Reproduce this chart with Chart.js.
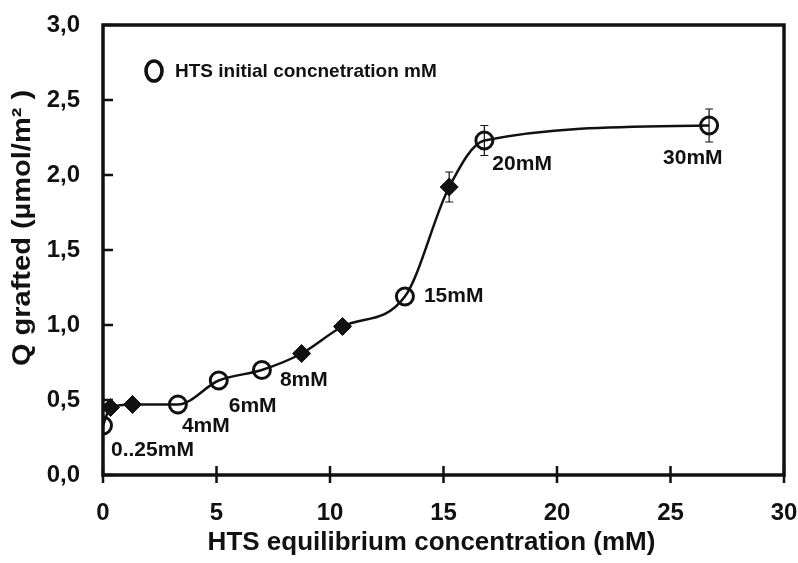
<!DOCTYPE html>
<html>
<head>
<meta charset="utf-8">
<title>HTS grafting isotherm</title>
<script src="https://cdn.jsdelivr.net/npm/chart.js@4.4.1/dist/chart.umd.min.js"></script>
<style>
  html, body { margin: 0; padding: 0; background: #fff; }
  #wrap { width: 798px; height: 563px; }
</style>
</head>
<body>
<div id="wrap"><canvas id="isotherm"></canvas></div>
<script>
// samples at a given initial concentration (open circles)
const initialConc = [0, 3.3, 5.1, 7.0, 13.3, 16.8, 26.7];
const initialQ = [0.33, 0.47, 0.63, 0.70, 1.19, 2.23, 2.33];
const initialErr = [0, 0, 0, 0, 0, 0.10, 0.11];
const initialNames = ['0..25mM', '4mM', '6mM', '8mM', '15mM', '20mM', '30mM'];

// intermediate samples (filled diamonds)
const otherConc = [0.33, 1.3, 8.75, 10.55, 15.25];
const otherQ = [0.45, 0.47, 0.81, 0.99, 1.92];
const otherErr = [0, 0, 0, 0, 0.10];

const xTicks = [0, 5, 10, 15, 20, 25, 30];
const yTicks = [0, 0.5, 1.0, 1.5, 2.0, 2.5, 3.0];

const legendText = 'HTS initial concnetration mM';
const xTitle = 'HTS equilibrium concentration (mM)';
const yTitle = 'Q grafted (µmol/m² )';

const FONT = '"Liberation Sans", Arial, sans-serif';
const INK = '#111';

// label placement next to each circle, in pixels from the point
const nameOffsets = [[8, 25], [4, 22], [10, 26], [18, 10], [19, 0], [8, 24], [-46, 33]];

const circlePts = initialConc.map((x, i) => ({ x, y: initialQ[i] }));
const diamondPts = otherConc.map((x, i) => ({ x, y: otherQ[i] }));
const curvePts = circlePts.concat(diamondPts).sort((a, b) => a.x - b.x);

const frame = {
  id: 'frame',
  afterDatasetsDraw(chart) {
    const { ctx, chartArea: a, scales: { x, y } } = chart;
    ctx.save();
    ctx.strokeStyle = INK;
    ctx.fillStyle = INK;

    // error bars
    ctx.lineWidth = 1.2;
    const bars = (xs, ys, es) => xs.forEach((xv, i) => {
      if (!es[i]) return;
      const px = x.getPixelForValue(xv);
      const top = y.getPixelForValue(ys[i] + es[i]);
      const bot = y.getPixelForValue(ys[i] - es[i]);
      ctx.beginPath();
      ctx.moveTo(px, top); ctx.lineTo(px, bot);
      ctx.moveTo(px - 4, top); ctx.lineTo(px + 4, top);
      ctx.moveTo(px - 4, bot); ctx.lineTo(px + 4, bot);
      ctx.stroke();
    });
    bars(initialConc, initialQ, initialErr);
    bars(otherConc, otherQ, otherErr);

    // box around the plot
    ctx.lineWidth = 3.5;
    ctx.strokeRect(a.left, a.top, a.right - a.left, a.bottom - a.top);

    // tick marks
    ctx.lineWidth = 2.5;
    ctx.beginPath();
    xTicks.forEach(v => {
      const px = x.getPixelForValue(v);
      ctx.moveTo(px, a.bottom - 9); ctx.lineTo(px, a.bottom + 8);
    });
    yTicks.forEach(v => {
      const py = y.getPixelForValue(v);
      ctx.moveTo(a.left, py); ctx.lineTo(a.left + 10, py);
    });
    ctx.stroke();

    // concentration names beside the circles
    ctx.font = 'bold 21px ' + FONT;
    ctx.textBaseline = 'middle';
    ctx.textAlign = 'left';
    initialNames.forEach((name, i) => {
      const px = x.getPixelForValue(initialConc[i]) + nameOffsets[i][0];
      const py = y.getPixelForValue(initialQ[i]) + nameOffsets[i][1];
      ctx.fillText(name, px, py);
    });

    // legend
    const lx = a.left + 51, ly = a.top + 46;
    ctx.lineWidth = 3.6;
    ctx.beginPath();
    ctx.ellipse(lx, ly, 8, 10, 0, 0, Math.PI * 2);
    ctx.stroke();
    ctx.font = 'bold 19px ' + FONT;
    ctx.fillText(legendText, lx + 21, ly + 1);

    // x axis title, a bit left of the plot centre
    ctx.textAlign = 'center';
    ctx.save();
    ctx.translate((a.left + a.right) / 2 - 12, a.bottom + 68);
    ctx.font = 'bold 25px ' + FONT;
    ctx.scale(1.04, 1);
    ctx.fillText(xTitle, 0, 0);
    ctx.restore();

    // y axis title, set a little above the middle of the axis
    ctx.translate(23, (a.top + a.bottom) / 2 - 22);
    ctx.rotate(-Math.PI / 2);
    ctx.font = 'bold 25px ' + FONT;
    ctx.scale(1.16, 1);
    ctx.fillText(yTitle, 0, 0);
    ctx.restore();
  }
};

new Chart(document.getElementById('isotherm'), {
  type: 'scatter',
  data: {
    datasets: [
      {
        label: 'curve',
        data: curvePts,
        showLine: true,
        cubicInterpolationMode: 'monotone',
        borderColor: INK,
        borderWidth: 2.5,
        pointRadius: 0,
        order: 3
      },
      {
        label: legendText,
        data: circlePts,
        pointStyle: 'circle',
        pointRadius: 8.5,
        borderWidth: 3,
        borderColor: INK,
        backgroundColor: 'rgba(0,0,0,0)',
        order: 2
      },
      {
        label: 'intermediate',
        data: diamondPts,
        pointStyle: 'rectRot',
        pointRadius: 9,
        borderWidth: 1,
        borderColor: INK,
        backgroundColor: INK,
        order: 1
      }
    ]
  },
  options: {
    responsive: true,
    maintainAspectRatio: false,
    animation: false,
    layout: { padding: { top: 25, right: 14, left: 0, bottom: 0 } },
    plugins: {
      legend: { display: false },
      tooltip: { enabled: false }
    },
    scales: {
      x: {
        type: 'linear',
        min: 0,
        max: 30,
        afterBuildTicks: s => { s.ticks = xTicks.map(value => ({ value })); },
        afterFit: s => { s.height = 88; s.paddingLeft = 0; s.paddingRight = 0; },
        grid: { display: false },
        border: { display: false },
        ticks: {
          color: INK,
          padding: 16,
          font: { family: FONT, size: 24, weight: 'bold' },
          callback: v => String(v)
        },
        title: { display: false }
      },
      y: {
        type: 'linear',
        min: 0,
        max: 3,
        afterBuildTicks: s => { s.ticks = yTicks.map(value => ({ value })); },
        afterFit: s => { s.width = 103; s.paddingTop = 0; s.paddingBottom = 0; },
        grid: { display: false },
        border: { display: false },
        ticks: {
          color: INK,
          padding: 15,
          font: { family: FONT, size: 24, weight: 'bold' },
          callback: v => v.toFixed(1).replace('.', ',')
        },
        title: { display: false }
      }
    }
  },
  plugins: [frame]
});
</script>
</body>
</html>
